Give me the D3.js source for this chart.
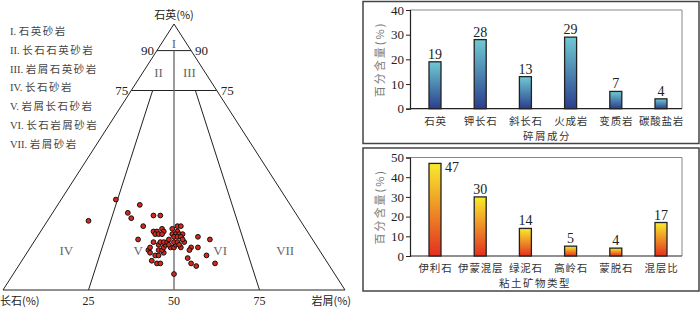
<!DOCTYPE html>
<html>
<head>
<meta charset="utf-8">
<script src="https://cdn.jsdelivr.net/npm/d3@7"></script>
<style>
  body { margin: 0; background: #fff; }
  svg { display: block; }
  text { font-family: "Liberation Serif", "DejaVu Serif", "Noto Sans CJK SC", serif; }
  .cn { font-family: "Noto Sans CJK SC", sans-serif; }
</style>
</head>
<body>
<div id="chart"></div>
<script>
// sandstone classes (legend)
var classNums = ["I", "II", "III", "IV", "V", "VI", "VII"];
var classNames = ["石英砂岩", "长石石英砂岩", "岩屑石英砂岩", "长石砂岩", "岩屑长石砂岩", "长石岩屑砂岩", "岩屑砂岩"];

// samples: quartz / feldspar / lithic (%)
var quartz =   [34, 32, 29, 27, 28, 28, 26, 24, 24, 24, 19, 20, 19, 16, 16, 15, 13, 10, 12, 10, 9, 6, 11, 10, 10, 13, 13, 14, 15, 14, 15, 15, 16, 17, 16, 17, 16, 16, 17, 16, 18, 18, 18, 18, 17, 18, 18, 17, 18, 22, 22, 23, 22, 21, 21, 21, 23, 22, 21, 21, 21, 21, 20, 20, 19, 20, 19];
var feldspar = [50, 44, 49, 49, 42, 40, 62, 47, 37, 36, 51, 33, 30, 35, 37, 38, 34, 33, 40, 40, 39, 47, 51, 50, 49, 49, 48, 46, 50, 50, 47, 46, 49, 46, 45, 44, 43, 42, 41, 40, 47, 45, 44, 43, 43, 41, 40, 40, 38, 45, 44, 42, 42, 45, 44, 43, 39, 38, 40, 39, 38, 37, 40, 39, 42, 38, 38];
var lithic =   [16, 24, 22, 24, 30, 32, 12, 29, 39, 40, 30, 47, 51, 49, 47, 47, 53, 57, 48, 50, 52, 47, 38, 40, 41, 38, 39, 40, 35, 36, 38, 39, 35, 37, 39, 39, 41, 42, 42, 44, 35, 37, 38, 39, 40, 41, 42, 43, 44, 33, 34, 35, 36, 34, 35, 36, 38, 40, 39, 40, 41, 42, 40, 41, 39, 42, 43];

// detrital composition
var detritalCats = ["石英", "钾长石", "斜长石", "火成岩", "变质岩", "碳酸盐岩"];
var detritalVals = [19, 28, 13, 29, 7, 4];
var detritalTicks = [0, 10, 20, 30, 40];

// clay minerals
var clayCats = ["伊利石", "伊蒙混层", "绿泥石", "高岭石", "蒙脱石", "混层比"];
var clayVals = [47, 30, 14, 5, 4, 17];
var clayTicks = [0, 10, 20, 30, 40, 50];

var svg = d3.select("#chart").append("svg").attr("width", 700).attr("height", 309);

// ---------- ternary ----------
var xBase = d3.scaleLinear().domain([0, 100]).range([3, 345]);
var yQ = d3.scaleLinear().domain([0, 100]).range([290, 24]);

function pt(q, f, r) {
    return [xBase(r + q / 2), yQ(q)];
}

var tern = svg.append("g");
var line = d3.line();

tern.append("path")
    .attr("d", line([pt(100, 0, 0), pt(0, 100, 0), pt(0, 0, 100)]) + "Z")
    .attr("fill", "none").attr("stroke", "#222").attr("stroke-width", 1);

var segs = [
    [pt(90, 10, 0), pt(90, 0, 10)],
    [pt(75, 25, 0), pt(75, 0, 25)],
    [pt(75, 18.75, 6.25), pt(0, 75, 25)],
    [pt(75, 6.25, 18.75), pt(0, 25, 75)]
];
segs.forEach(function (s) {
    tern.append("path").attr("d", line(s))
        .attr("fill", "none").attr("stroke", "#222").attr("stroke-width", 1);
});
tern.append("path").attr("d", line([pt(90, 5, 5), pt(0, 50, 50)]))
    .attr("fill", "none").attr("stroke", "#666").attr("stroke-width", 1.3);

// apex / corner labels
tern.append("text").attr("class", "cn").attr("x", xBase(50)).attr("y", 19)
    .attr("text-anchor", "middle").attr("font-size", 11).attr("fill", "#222").text("石英(%)");
tern.append("text").attr("class", "cn").attr("x", 0).attr("y", 305)
    .attr("font-size", 11).attr("fill", "#222").text("长石(%)");
tern.append("text").attr("class", "cn").attr("x", 351).attr("y", 305)
    .attr("text-anchor", "end").attr("font-size", 11).attr("fill", "#222").text("岩屑(%)");

[25, 50, 75].forEach(function (v) {
    tern.append("text").attr("x", xBase(v)).attr("y", 305)
        .attr("text-anchor", "middle").attr("font-size", 12).attr("fill", "#222").text(v);
});
[[90, 10, 0, "end", -3], [90, 0, 10, "start", 4], [75, 25, 0, "end", -3], [75, 0, 25, "start", 4]].forEach(function (d) {
    var p = pt(d[0], d[1], d[2]);
    tern.append("text").attr("x", p[0] + d[4]).attr("y", p[1] + 4)
        .attr("text-anchor", d[3]).attr("font-size", 13).attr("fill", "#222").text(d[0]);
});

// region numerals
var regionPos = [[93, 3.5, 3.5], [82, 13.5, 4.5], [82, 4.5, 13.5], [15, 74, 11], [15, 53, 32], [15, 29, 56], [15, 10, 75]];
regionPos.forEach(function (d, i) {
    var p = pt(d[0], d[1], d[2]);
    tern.append("text").attr("x", p[0]).attr("y", p[1] + 5)
        .attr("text-anchor", "middle").attr("font-size", 13).attr("fill", "#666").text(classNums[i]);
});

// legend
classNames.forEach(function (name, i) {
    var t = tern.append("text").attr("x", 10).attr("y", 35 + i * 18.8)
        .attr("font-size", 10.5).attr("fill", "#444");
    t.append("tspan").text(classNums[i] + ". ");
    t.append("tspan").attr("class", "cn").attr("letter-spacing", 1.5).text(name);
});

// samples
tern.selectAll("circle.s").data(quartz).enter().append("circle")
    .attr("class", "s")
    .attr("cx", function (d, i) { return pt(d, feldspar[i], lithic[i])[0]; })
    .attr("cy", function (d, i) { return pt(d, feldspar[i], lithic[i])[1]; })
    .attr("r", 2.4)
    .attr("fill", "#d8261c").attr("stroke", "#111").attr("stroke-width", 1);

// ---------- bar charts ----------
var defs = svg.append("defs");
function grad(id, top, bottom) {
    var g = defs.append("linearGradient").attr("id", id)
        .attr("x1", 0).attr("y1", 0).attr("x2", 0).attr("y2", 1);
    g.append("stop").attr("offset", "0%").attr("stop-color", top);
    g.append("stop").attr("offset", "100%").attr("stop-color", bottom);
}
grad("gBlue", "#6fcad3", "#2a3e8e");
grad("gFire", "#f8ec2c", "#e3301f");

function drawBars(cfg) {
    var g = svg.append("g");
    g.append("rect").attr("x", cfg.box[0]).attr("y", cfg.box[1])
        .attr("width", cfg.box[2]).attr("height", cfg.box[3])
        .attr("fill", "none").attr("stroke", "#444").attr("stroke-width", 1.5);

    var x = d3.scalePoint().domain(cfg.cats).range([435, 661]);
    var y = d3.scaleLinear().domain([0, d3.max(cfg.ticks)]).range(cfg.yRange);
    var left = 410, right = 682;

    // frame
    g.append("path")
        .attr("d", "M" + left + "," + y.range()[1] + "H" + right + "V" + y.range()[0])
        .attr("fill", "none").attr("stroke", "#888").attr("stroke-width", 1);
    g.append("path")
        .attr("d", "M" + left + "," + y.range()[0] + "H" + right)
        .attr("stroke", "#222").attr("stroke-width", 1.2);

    var ax = g.append("g").attr("transform", "translate(" + left + ",0)")
        .call(d3.axisLeft(y).tickValues(cfg.ticks).tickSize(4).tickPadding(2));
    ax.select(".domain").attr("stroke", "#222").attr("stroke-width", 1.2);
    ax.selectAll(".tick line").attr("stroke", "#222");
    ax.selectAll("text").attr("font-size", 13).attr("fill", "#222")
        .attr("font-family", "Liberation Serif, serif");

    var bw = 12;
    g.selectAll("rect.bar").data(cfg.vals).enter().append("rect")
        .attr("class", "bar")
        .attr("x", function (d, i) { return x(cfg.cats[i]) - bw / 2; })
        .attr("y", function (d) { return y(d); })
        .attr("width", bw)
        .attr("height", function (d) { return y(0) - y(d); })
        .attr("fill", "url(#" + cfg.grad + ")")
        .attr("stroke", "#222").attr("stroke-width", 1.3);

    g.selectAll("text.val").data(cfg.vals).enter().append("text")
        .attr("class", "val")
        .attr("x", function (d, i) {
            return y(d) - 16 < y.range()[1] ? x(cfg.cats[i]) + bw / 2 + 4 : x(cfg.cats[i]);
        })
        .attr("y", function (d) {
            return y(d) - 16 < y.range()[1] ? y(d) + 9 : y(d) - 3;
        })
        .attr("text-anchor", function (d) { return y(d) - 16 < y.range()[1] ? "start" : "middle"; })
        .attr("font-size", 14).attr("fill", "#222")
        .text(function (d) { return d; });

    g.selectAll("text.cat").data(cfg.cats).enter().append("text")
        .attr("class", "cat cn")
        .attr("x", function (d) { return x(d) + 0.5; })
        .attr("y", y(0) + 16)
        .attr("text-anchor", "middle").attr("font-size", 10.5).attr("letter-spacing", 0.8)
        .attr("fill", "#333").text(function (d) { return d; });

    g.append("text").attr("class", "cn")
        .attr("x", cfg.titleX).attr("y", y(0) + 31)
        .attr("text-anchor", "middle").attr("font-size", 10.5).attr("letter-spacing", 1.5)
        .attr("fill", "#333").text(cfg.title);

    g.append("text").attr("class", "cn")
        .attr("transform", "translate(384," + ((y.range()[0] + y.range()[1]) / 2) + ") rotate(-90)")
        .attr("text-anchor", "middle").attr("font-size", 11).attr("letter-spacing", 2)
        .attr("fill", "#777").text("百分含量(%)");
}

drawBars({
    box: [363, 1.5, 336, 142], cats: detritalCats, vals: detritalVals, ticks: detritalTicks,
    yRange: [108.7, 10], grad: "gBlue", title: "碎屑成分", titleX: 547
});
drawBars({
    box: [363, 148, 336, 143], cats: clayCats, vals: clayVals, ticks: clayTicks,
    yRange: [256, 157.5], grad: "gFire", title: "粘土矿物类型", titleX: 535
});
</script>
</body>
</html>
